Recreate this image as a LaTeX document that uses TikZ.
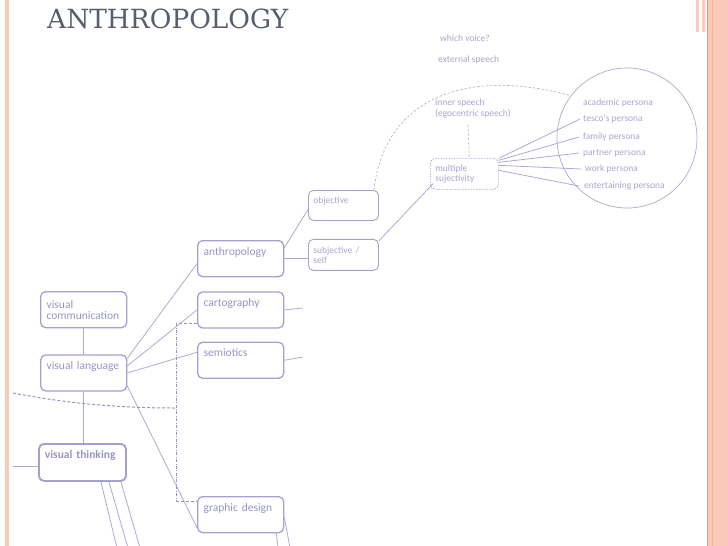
\documentclass[tikz,border=0pt]{standalone}
\usepackage{fontspec}
\newfontfamily\carlito{Carlito}
\newfontfamily\titlefont{DejaVu Serif}
\usetikzlibrary{positioning, calc}

\definecolor{boxline}{RGB}{163,161,208}
\definecolor{boxtext}{RGB}{150,148,196}
\definecolor{softtext}{RGB}{168,166,206}
\definecolor{linkline}{RGB}{172,170,214}
\definecolor{bracketline}{RGB}{150,148,192}
\definecolor{titlegray}{RGB}{88,94,108}
\definecolor{sidepink}{RGB}{251,201,183}
\definecolor{sideorange}{RGB}{238,152,112}

\begin{document}
\begin{tikzpicture}[
    x=1pt, y=-1pt,
    font=\carlito,
    topic/.style={
        rectangle,
        draw=boxline,
        line width=1.3pt,
        rounded corners=5pt,
        text=boxtext,
        text width=74pt,
        align=left,
        inner xsep=6pt,
        inner ysep=3pt,
        minimum height=36pt,
        anchor=north west,
        font=\carlito\fontsize{11.5}{11}\selectfont
    },
    oneline/.style={
        text height=11.5pt,
        text depth=18.5pt
    },
    leaf/.style={
        rectangle,
        draw=boxline,
        line width=0.9pt,
        rounded corners=5pt,
        text=softtext,
        text width=60pt,
        align=left,
        inner xsep=5pt,
        inner ysep=3pt,
        minimum height=30pt,
        anchor=north west,
        font=\carlito\fontsize{9.5}{10}\selectfont
    },
    plain/.style={
        text=softtext,
        inner sep=1pt,
        anchor=west,
        font=\carlito\fontsize{9.5}{11}\selectfont
    },
    link/.style={
        draw=linkline,
        line width=0.8pt
    },
    dashlink/.style={
        draw=linkline,
        line width=0.6pt,
        dash pattern=on 2.5pt off 1.8pt
    },
    bracket/.style={
        draw=bracketline,
        line width=1pt,
        dash pattern=on 3pt off 2pt
    },
    dashdotbracket/.style={
        draw=bracketline,
        line width=1pt,
        dash pattern=on 3pt off 1.5pt on 0.8pt off 1.5pt
    }
]
\useasboundingbox (0,0) rectangle (728,546);

% Side bands and title
\fill[sidepink] (5,0) rectangle (9,546);
\fill[sidepink] (696,0) rectangle (699,32);
\fill[sidepink] (702,0) rectangle (705,32);
\fill[sidepink] (707,0) rectangle (728,546);
\draw[sideorange, line width=1.2pt] (707.5,0) -- (707.5,546);
\draw[sideorange!70, line width=1pt] (712.5,0) -- (712.5,546);
\node[anchor=base west, inner sep=0pt, text=titlegray,
    font=\titlefont\fontsize{26.4}{27}\selectfont] (title) at (47,28) {ANTHROPOLOGY};

% Left column
\node[topic] (viscomm) at (40,291) {visual\\communication};
\node[topic, oneline, below=26pt of viscomm] (vislang) {visual language};
\node[topic, oneline, text width=75pt, minimum height=37pt, line width=1.9pt,
    font=\carlito\bfseries\fontsize{11.5}{11}\selectfont] (visthink) at (38,443) {visual thinking};

\draw[link] (viscomm) -- (vislang);
\draw[link] (vislang.south) -- (vislang.south |- visthink.north);
\coordinate (thinkstub) at (13,466);
\draw[link] (thinkstub) -- (thinkstub -| visthink.west);
\coordinate (thinktaila) at (117,548);
\coordinate (thinktailb) at (128,548);
\coordinate (thinktailc) at (140,548);
\draw[link] ([xshift=18.5pt]visthink.south) -- (thinktaila);
\draw[link] ([xshift=26.5pt]visthink.south) -- (thinktailb);
\draw[link] ([xshift=38.5pt]visthink.south) -- (thinktailc);

% Middle column
\node[topic, oneline] (anthro) at (197,240) {anthropology};
\node[topic, oneline, below=14pt of anthro] (carto) {cartography};
\node[topic, oneline, below=13pt of carto] (semio) {semiotics};
\node[topic, oneline] (graphic) at (197,496) {graphic design};

\draw[link] ([yshift=-4pt]vislang.north east) -- ([yshift=-5pt]anthro.west);
\draw[link] ([yshift=7pt]vislang.east) -- (carto.west);
\draw[link] (vislang.east) -- ([yshift=8pt]semio.west);
\draw[link] ([yshift=-13pt]vislang.east) -- ([yshift=-13pt]graphic.west);

\coordinate (cartoend) at (303,308);
\coordinate (semioend) at (303,357);
\draw[link] (carto.east) -- (cartoend);
\draw[link] (semio.east) -- (semioend);
\coordinate (graphictaila) at (278,548);
\coordinate (graphictailb) at (290,548);
\draw[link] ([xshift=-8pt]graphic.south east) -- (graphictaila);
\draw[link] ([yshift=-21pt]graphic.north east) -- (graphictailb);

% Dashed bracket on the left
\coordinate (bracetop) at (176,323);
\coordinate (bracemid) at (176,408);
\coordinate (bracebot) at (176,501);
\coordinate (curvestart) at (13,393);
\draw[bracket] (carto.west |- bracetop) -- (bracetop);
\draw[dashdotbracket] (bracetop) -- (bracebot);
\draw[bracket] (bracebot) -- (graphic.west |- bracebot);
\draw[bracket] (curvestart) .. controls (60,402) and (110,408) .. (bracemid);

% Anthropology branch
\node[leaf, text height=10pt, text depth=14pt] (obj) at (308,190) {objective};
\node[leaf, minimum height=31pt, below=18pt of obj] (subj) {subjective /\\self};
\node[leaf, text width=58pt, minimum height=31pt, line width=0.7pt,
    dash pattern=on 1.5pt off 1.2pt] (multi) at (430,158) {multiple\\sujectivity};
\node[plain, anchor=north west, align=left] (inner) at (434,98) {inner speech\\(egocentric speech)};
\node[plain] (voice) at (439,38) {which voice?};
\node[plain] (external) at (437,60) {external speech};
\node[circle, draw=linkline, line width=0.7pt, minimum size=140pt, inner sep=0pt] (persona) at (627,138) {};

\draw[link] ([yshift=-8pt]anthro.north east) -- ([yshift=-4pt]obj.west);
\draw[link] (anthro.east) -- (anthro.east -| subj.west);
\draw[link] ([yshift=-2pt]subj.north east) -- ([xshift=3pt, yshift=6pt]multi.south west);
\draw[dashlink] ([xshift=-5pt]obj.north east) .. controls (385,95) and (470,68) .. (persona.143);
\draw[dashlink] ([xshift=-5pt, yshift=-5pt]inner.south) -- ([xshift=5pt]multi.north);

% Personas
\node[plain] (academic) at (582,103) {academic persona};
\node[plain] (tesco) at (582,119) {tesco's persona};
\node[plain] (family) at (582,137) {family persona};
\node[plain] (partner) at (582,153) {partner persona};
\node[plain] (work) at (584,169) {work persona};
\node[plain] (entertain) at (583,186) {entertaining persona};

\draw[link] ([yshift=15.5pt]multi.east) -- ([xshift=-2pt]tesco.west);
\draw[link] ([yshift=13.5pt]multi.east) -- ([xshift=-3pt]family.west);
\draw[link] ([yshift=11.5pt]multi.east) -- ([xshift=-3pt]partner.west);
\draw[link] ([yshift=8.5pt]multi.east) -- ([xshift=-3pt]work.west);
\draw[link] ([yshift=3.5pt]multi.east) -- ([xshift=-4pt]entertain.west);

\end{tikzpicture}
\end{document}
